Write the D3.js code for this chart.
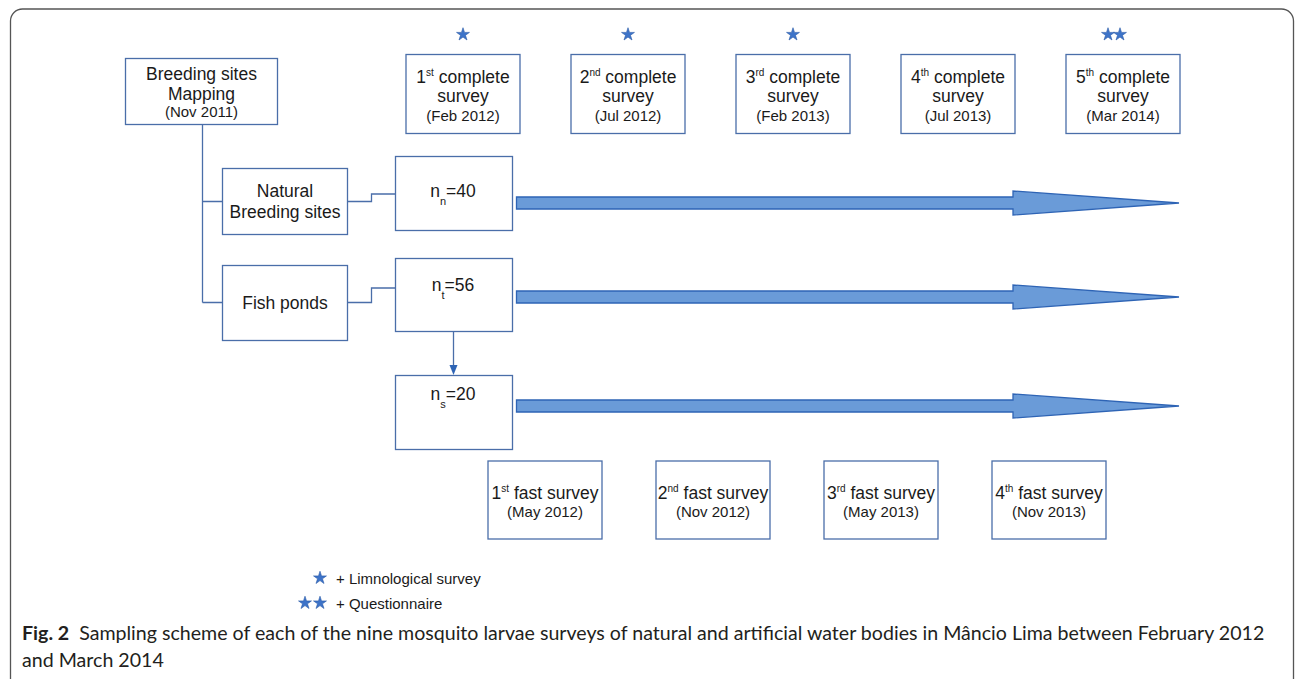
<!DOCTYPE html>
<html>
<head>
<meta charset="utf-8">
<script src="https://cdn.jsdelivr.net/npm/d3@7"></script>
<style>
  body { margin: 0; background: #fff; }
  svg { display: block; }
  .box { fill: #fff; stroke: #4a6ea9; stroke-width: 1.3; }
  .link { fill: none; stroke: #4a6ea9; stroke-width: 1.3; }
  .lbl { font-family: "Liberation Sans", Arial, sans-serif; fill: #1a1a1a; }
  .arrow { fill: #6a9bd8; stroke: #2e64b5; stroke-width: 1.3; }
  .star { fill: #3d73c8; stroke: #2a5aa8; stroke-width: 0.6; }
</style>
</head>
<body>
<div id="chart"></div>
<script>
// survey data
const completeOrdinals = ["1", "2", "3", "4", "5"];
const completeSuffix = ["st", "nd", "rd", "th", "th"];
const completeDates = ["Feb 2012", "Jul 2012", "Feb 2013", "Jul 2013", "Mar 2014"];
const completeStars = [1, 1, 1, 0, 2];

const fastOrdinals = ["1", "2", "3", "4"];
const fastSuffix = ["st", "nd", "rd", "th"];
const fastDates = ["May 2012", "Nov 2012", "May 2013", "Nov 2013"];

const siteTypes = [["Natural", "Breeding sites"], ["Fish ponds"]];
const sampleSubs = ["n", "t", "s"];
const sampleSizes = [40, 56, 20];

const legendStars = [1, 2];
const legendLabels = ["+ Limnological survey", "+ Questionnaire"];

const captionBold = "Fig. 2";
const captionLines = [
  "Sampling scheme of each of the nine mosquito larvae surveys of natural and artificial water bodies in M\u00e2ncio Lima between February 2012",
  "and March 2014"
];

const W = 1295, H = 679;
const svg = d3.select("#chart").append("svg")
  .attr("width", W).attr("height", H);

// outer frame (bottom runs off the picture)
svg.append("rect")
  .attr("x", 10.5).attr("y", 9).attr("width", 1283).attr("height", 720)
  .attr("rx", 12).attr("fill", "none").attr("stroke", "#555").attr("stroke-width", 1.3);

// columns
const xComplete = d3.scalePoint().domain(completeDates).range([463, 1123]);
const xFast = d3.scalePoint().domain(fastDates).range([545, 1049]);
// rows of sample boxes / arrows
const yRow = d3.scaleOrdinal().domain(sampleSubs).range([203, 297, 406]);

const boxW = 114;
const starPath = d3.symbol(d3.symbolStar, 52);

function ordText(sel, ord, suf, rest) {
  sel.append("tspan").text(ord);
  sel.append("tspan").attr("font-size", 10).attr("dy", -7).text(suf);
  sel.append("tspan").attr("dy", 7).text(rest);
}

// complete survey boxes
const cg = svg.append("g").selectAll("g")
  .data(completeDates.map((d, i) => ({ date: d, ord: completeOrdinals[i], suf: completeSuffix[i], stars: completeStars[i] })))
  .join("g")
  .attr("transform", d => `translate(${xComplete(d.date)},0)`);

cg.append("rect").attr("class", "box")
  .attr("x", -boxW / 2).attr("y", 54.5).attr("width", boxW).attr("height", 79);
cg.append("text").attr("class", "lbl").attr("text-anchor", "middle")
  .attr("y", 83).attr("font-size", 17.5)
  .each(function(d) { ordText(d3.select(this), d.ord, d.suf, " complete"); });
cg.append("text").attr("class", "lbl").attr("text-anchor", "middle")
  .attr("y", 102).attr("font-size", 17.5).text("survey");
cg.append("text").attr("class", "lbl").attr("text-anchor", "middle")
  .attr("y", 121).attr("font-size", 15).text(d => `(${d.date})`);
cg.each(function(d) {
  const g = d3.select(this);
  const offs = d.stars === 2 ? [-15, -3] : d.stars === 1 ? [0] : [];
  offs.forEach(o => g.append("path").attr("class", "star")
    .attr("d", starPath).attr("transform", `translate(${o},34.5)`));
});

// fast survey boxes
const fg = svg.append("g").selectAll("g")
  .data(fastDates.map((d, i) => ({ date: d, ord: fastOrdinals[i], suf: fastSuffix[i] })))
  .join("g")
  .attr("transform", d => `translate(${xFast(d.date)},0)`);

fg.append("rect").attr("class", "box")
  .attr("x", -57).attr("y", 461).attr("width", boxW).attr("height", 78);
fg.append("text").attr("class", "lbl").attr("text-anchor", "middle")
  .attr("y", 498.5).attr("font-size", 17.5)
  .each(function(d) { ordText(d3.select(this), d.ord, d.suf, " fast survey"); });
fg.append("text").attr("class", "lbl").attr("text-anchor", "middle")
  .attr("y", 517).attr("font-size", 15).text(d => `(${d.date})`);

// breeding site mapping box
svg.append("rect").attr("class", "box")
  .attr("x", 125.5).attr("y", 58.5).attr("width", 152).attr("height", 66);
[["Breeding sites", 79.5, 17.5], ["Mapping", 100, 17.5], ["(Nov 2011)", 117, 15]].forEach(t => {
  svg.append("text").attr("class", "lbl").attr("text-anchor", "middle")
    .attr("x", 201.5).attr("y", t[1]).attr("font-size", t[2]).text(t[0]);
});

// tree lines from mapping box
const siteY = [201.5, 302.5];
const siteBox = [[168.5, 66], [265.5, 75]];
svg.append("path").attr("class", "link")
  .attr("d", `M202.5,124.5V${siteY[1]}M202.5,${siteY[0]}H222.5M202.5,${siteY[1]}H222.5`);

// site type boxes + connectors to sample boxes
siteTypes.forEach((lines, i) => {
  svg.append("rect").attr("class", "box")
    .attr("x", 222.5).attr("y", siteBox[i][0]).attr("width", 125).attr("height", siteBox[i][1]);
  const cy = siteBox[i][0] + siteBox[i][1] / 2;
  lines.forEach((l, j) => {
    svg.append("text").attr("class", "lbl").attr("text-anchor", "middle")
      .attr("x", 285).attr("y", cy + 6 + (j - (lines.length - 1) / 2) * 20.5)
      .attr("font-size", 17.5).text(l);
  });
  const ty = yRow(sampleSubs[i]) - 9;
  svg.append("path").attr("class", "link")
    .attr("d", `M347.5,${siteY[i]}H371.5V${ty}H395`);
});

// sample size boxes
const sampleBox = [[156.5, 74], [258.5, 73], [375.5, 74]];
sampleSubs.forEach((s, i) => {
  svg.append("rect").attr("class", "box")
    .attr("x", 395.5).attr("y", sampleBox[i][0]).attr("width", 117).attr("height", sampleBox[i][1]);
  const t = svg.append("text").attr("class", "lbl").attr("text-anchor", "middle")
    .attr("x", 453).attr("y", yRow(s) - 6).attr("font-size", 17.5);
  t.append("tspan").text("n");
  t.append("tspan").attr("font-size", 11).attr("dy", 8).text(s);
  t.append("tspan").attr("dy", -8).text("=" + sampleSizes[i]);
});

// downward arrow nt -> ns
svg.append("path").attr("class", "link").attr("d", "M453.5,331.5V367");
svg.append("path").attr("fill", "#2e64b5")
  .attr("d", "M449.5,365L457.5,365L453.5,375Z");

// big arrows over the survey period
const shaftX0 = 516.5, headX0 = 1013, tipX = 1179;
sampleSubs.forEach(s => {
  const c = yRow(s);
  svg.append("path").attr("class", "arrow")
    .attr("d", `M${shaftX0},${c - 6}H${headX0}V${c - 12}L${tipX},${c}L${headX0},${c + 12}V${c + 6}H${shaftX0}Z`);
});

// legend
legendStars.forEach((n, i) => {
  const y = 578 + i * 25;
  const offs = n === 2 ? [305, 320] : [320];
  offs.forEach(x => svg.append("path").attr("class", "star")
    .attr("d", starPath).attr("transform", `translate(${x},${y})`));
  svg.append("text").attr("class", "lbl")
    .attr("x", 336).attr("y", y + 6)
    .attr("font-family", "'Liberation Sans Narrow', 'Liberation Sans', sans-serif")
    .attr("font-size", 15).text(legendLabels[i]);
});

// caption
const capFont = "Lato, 'Open Sans', sans-serif";
const capGap = 10;
const cap1 = svg.append("text").attr("x", 22).attr("y", 640)
  .attr("font-family", capFont).attr("fill", "#231f20").attr("font-size", 17.5);
cap1.append("tspan").attr("font-weight", "bold").text(captionBold);
cap1.append("tspan").attr("dx", capGap).text(captionLines[0]);
// fit first line to the column width
const want = 1265 - 22 - capGap;
const got = cap1.node().getComputedTextLength();
const fs = 17.5 * want / got;
cap1.attr("font-size", fs);
svg.append("text").attr("x", 22).attr("y", 667)
  .attr("font-family", capFont).attr("fill", "#231f20").attr("font-size", fs)
  .text(captionLines[1]);
</script>
</body>
</html>
